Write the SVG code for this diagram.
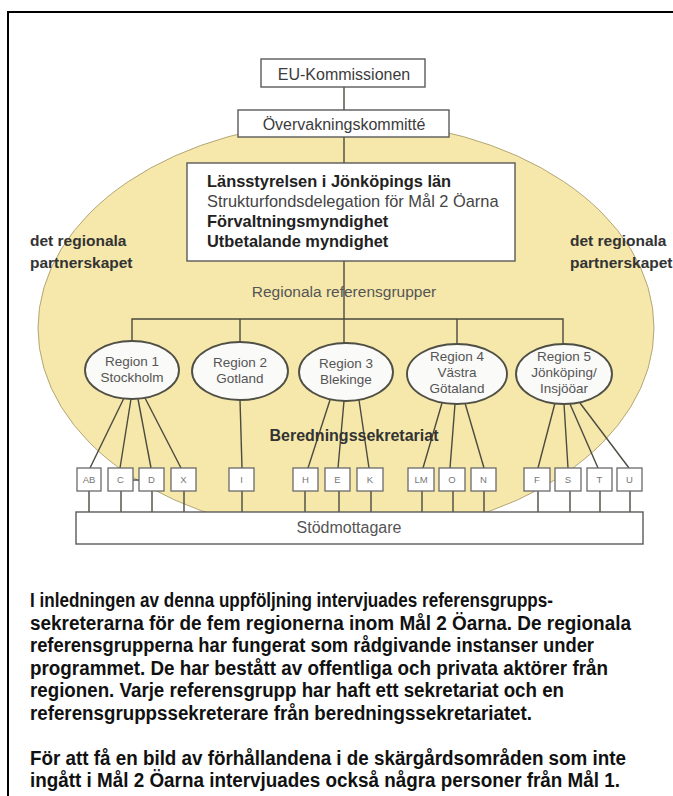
<svg xmlns="http://www.w3.org/2000/svg" width="673" height="796" viewBox="0 0 673 796">
<style>
text{font-family:"Liberation Sans",Arial,sans-serif;fill:#3c3c3c}
.box{fill:#fff;stroke:#5a5a5a;stroke-width:1.4}
.reg{fill:#fafaf8;stroke:#4f4f45;stroke-width:1.9}
.sm{fill:#fff;stroke:#6a6a6a;stroke-width:1.3}
.ln{stroke:#4a4a40;stroke-width:1.4;fill:none}
.c{text-anchor:middle}
.t16{font-size:16px}
.t164{font-size:16.4px}
.b{font-weight:bold}
.rt{font-size:13.5px;text-anchor:middle;fill:#555}
.st{font-size:9.5px;text-anchor:middle;fill:#777}
.lbl{font-size:15.5px;font-weight:bold;fill:#333}
.p{font-size:19.5px;font-weight:bold;fill:#111}
</style>
<rect x="0" y="0" width="673" height="796" fill="#fff"/>
<rect x="8" y="12" width="700" height="820" fill="none" stroke="#000" stroke-width="2"/>

<g id="partnerskap">
<ellipse cx="346" cy="328" rx="308" ry="207" fill="#f6e8ab" stroke="#b3a677" stroke-width="1"/>
<text class="lbl" x="30" y="246">det regionala</text>
<text class="lbl" x="30" y="268">partnerskapet</text>
<text class="lbl" x="570" y="246">det regionala</text>
<text class="lbl" x="570" y="268">partnerskapet</text>
</g>

<g id="connectors" class="ln">
<line x1="344" y1="87" x2="344" y2="110"/>
<line x1="344" y1="137" x2="344" y2="163"/>
<line x1="344" y1="261" x2="344" y2="343"/>
<polyline points="132,341 132,319 563,319 563,345"/>
<line x1="240" y1="319" x2="240" y2="342"/>
<line x1="457" y1="319" x2="457" y2="344"/>
<line x1="124" y1="398" x2="90" y2="468"/>
<line x1="131" y1="399" x2="120" y2="468"/>
<line x1="138" y1="399" x2="151" y2="468"/>
<line x1="145" y1="398" x2="181" y2="468"/>
<line x1="240" y1="400" x2="242" y2="468"/>
<line x1="330" y1="400" x2="308" y2="468"/>
<line x1="344" y1="401" x2="338" y2="468"/>
<line x1="359" y1="400" x2="369" y2="468"/>
<line x1="442" y1="403" x2="423" y2="468"/>
<line x1="455" y1="404" x2="450" y2="468"/>
<line x1="465" y1="403" x2="484" y2="468"/>
<line x1="555" y1="403" x2="538" y2="468"/>
<line x1="564" y1="404" x2="568" y2="468"/>
<line x1="570" y1="404" x2="598" y2="468"/>
<line x1="580" y1="403" x2="629" y2="468"/>
<line x1="133" y1="480" x2="139" y2="480"/>
<line x1="89" y1="491" x2="89" y2="512"/>
<line x1="121" y1="491" x2="121" y2="512"/>
<line x1="152" y1="491" x2="152" y2="512"/>
<line x1="184" y1="491" x2="184" y2="512"/>
<line x1="242" y1="491" x2="242" y2="512"/>
<line x1="305" y1="491" x2="305" y2="512"/>
<line x1="339" y1="491" x2="339" y2="512"/>
<line x1="371" y1="491" x2="371" y2="512"/>
<line x1="422" y1="491" x2="422" y2="512"/>
<line x1="453" y1="491" x2="453" y2="512"/>
<line x1="484" y1="491" x2="484" y2="512"/>
<line x1="538" y1="491" x2="538" y2="512"/>
<line x1="570" y1="491" x2="570" y2="512"/>
<line x1="600" y1="491" x2="600" y2="512"/>
<line x1="630" y1="491" x2="630" y2="512"/>
</g>

<g id="eu">
<rect class="box" x="261" y="59" width="164" height="28"/>
<text class="t16 c" x="344" y="80">EU-Kommissionen</text>
</g>
<g id="overvakning">
<rect class="box" x="238" y="110" width="211" height="27"/>
<text class="t16 c" x="344" y="130">Övervakningskommitté</text>
</g>
<g id="lansstyrelsen">
<rect class="box" x="187" y="163" width="328" height="98"/>
<text class="t164 b" x="207" y="187" style="fill:#222">Länsstyrelsen i Jönköpings län</text>
<text class="t164" x="207" y="206.5" style="fill:#444">Strukturfondsdelegation för Mål 2 Öarna</text>
<text class="t164 b" x="207" y="227" style="fill:#222">Förvaltningsmyndighet</text>
<text class="t164 b" x="207" y="246.5" style="fill:#222">Utbetalande myndighet</text>
</g>
<g id="regionala">
<text class="c" x="344" y="297" style="font-size:15.5px;fill:#555">Regionala referensgrupper</text>
</g>

<g id="region1"><ellipse class="reg" cx="132" cy="370" rx="47" ry="29"/>
<text class="rt" x="132" y="366">Region 1</text><text class="rt" x="132" y="382">Stockholm</text></g>
<g id="region2"><ellipse class="reg" cx="240" cy="371" rx="48" ry="29"/>
<text class="rt" x="240" y="367">Region 2</text><text class="rt" x="240" y="383">Gotland</text></g>
<g id="region3"><ellipse class="reg" cx="346" cy="372" rx="47" ry="29"/>
<text class="rt" x="346" y="368">Region 3</text><text class="rt" x="346" y="384">Blekinge</text></g>
<g id="region4"><ellipse class="reg" cx="457" cy="374" rx="50" ry="30"/>
<text class="rt" x="457" y="361">Region 4</text><text class="rt" x="457" y="377">Västra</text><text class="rt" x="457" y="393">Götaland</text></g>
<g id="region5"><ellipse class="reg" cx="564" cy="374" rx="48" ry="30"/>
<text class="rt" x="564" y="361">Region 5</text><text class="rt" x="564" y="377">Jönköping/</text><text class="rt" x="564" y="393">Insjööar</text></g>

<g id="beredning">
<text class="c" x="354" y="441" style="font-size:16px;font-weight:bold;fill:#333">Beredningssekretariat</text>
</g>

<g id="sm-AB"><rect class="sm" x="77" y="468" width="24" height="23"/><text class="st" x="89" y="483">AB</text></g>
<g id="sm-C"><rect class="sm" x="108" y="468" width="25" height="23"/><text class="st" x="120.5" y="483">C</text></g>
<g id="sm-D"><rect class="sm" x="139" y="468" width="25" height="23"/><text class="st" x="151.5" y="483">D</text></g>
<g id="sm-X"><rect class="sm" x="171" y="468" width="25" height="23"/><text class="st" x="183.5" y="483">X</text></g>
<g id="sm-I"><rect class="sm" x="229" y="468" width="25" height="23"/><text class="st" x="241.5" y="483">I</text></g>
<g id="sm-H"><rect class="sm" x="293" y="468" width="25" height="23"/><text class="st" x="305.5" y="483">H</text></g>
<g id="sm-E"><rect class="sm" x="325" y="468" width="25" height="23"/><text class="st" x="337.5" y="483">E</text></g>
<g id="sm-K"><rect class="sm" x="357" y="468" width="26" height="23"/><text class="st" x="370" y="483">K</text></g>
<g id="sm-LM"><rect class="sm" x="408" y="468" width="26" height="23"/><text class="st" x="421" y="483">LM</text></g>
<g id="sm-O"><rect class="sm" x="439" y="468" width="26" height="23"/><text class="st" x="452" y="483">O</text></g>
<g id="sm-N"><rect class="sm" x="471" y="468" width="25" height="23"/><text class="st" x="483.5" y="483">N</text></g>
<g id="sm-F"><rect class="sm" x="524" y="468" width="26" height="23"/><text class="st" x="537" y="483">F</text></g>
<g id="sm-S"><rect class="sm" x="555" y="468" width="26" height="23"/><text class="st" x="568" y="483">S</text></g>
<g id="sm-T"><rect class="sm" x="587" y="468" width="25" height="23"/><text class="st" x="599.5" y="483">T</text></g>
<g id="sm-U"><rect class="sm" x="617" y="468" width="25" height="23"/><text class="st" x="629.5" y="483">U</text></g>

<g id="stodmottagare">
<rect class="box" x="76" y="512" width="567" height="32"/>
<text class="c" x="349" y="533" style="font-size:16px;fill:#555">Stödmottagare</text>
</g>

<g id="paragraph">
<text class="p" x="30" y="607" textLength="523" lengthAdjust="spacingAndGlyphs">I inledningen av denna uppföljning intervjuades referensgrupps-</text>
<text class="p" x="30" y="629.5" textLength="601" lengthAdjust="spacingAndGlyphs">sekreterarna för de fem regionerna inom Mål 2 Öarna. De regionala</text>
<text class="p" x="30" y="652" textLength="564" lengthAdjust="spacingAndGlyphs">referensgrupperna har fungerat som rådgivande instanser under</text>
<text class="p" x="30" y="674.5" textLength="578" lengthAdjust="spacingAndGlyphs">programmet. De har bestått av offentliga och privata aktörer från</text>
<text class="p" x="30" y="697" textLength="534" lengthAdjust="spacingAndGlyphs">regionen. Varje referensgrupp har haft ett sekretariat och en</text>
<text class="p" x="30" y="719.5" textLength="502" lengthAdjust="spacingAndGlyphs">referensgruppssekreterare från beredningssekretariatet.</text>
<text class="p" x="30" y="764.5" textLength="596" lengthAdjust="spacingAndGlyphs">För att få en bild av förhållandena i de skärgårdsområden som inte</text>
<text class="p" x="30" y="787" textLength="590" lengthAdjust="spacingAndGlyphs">ingått i Mål 2 Öarna intervjuades också några personer från Mål 1.</text>
</g>
</svg>
